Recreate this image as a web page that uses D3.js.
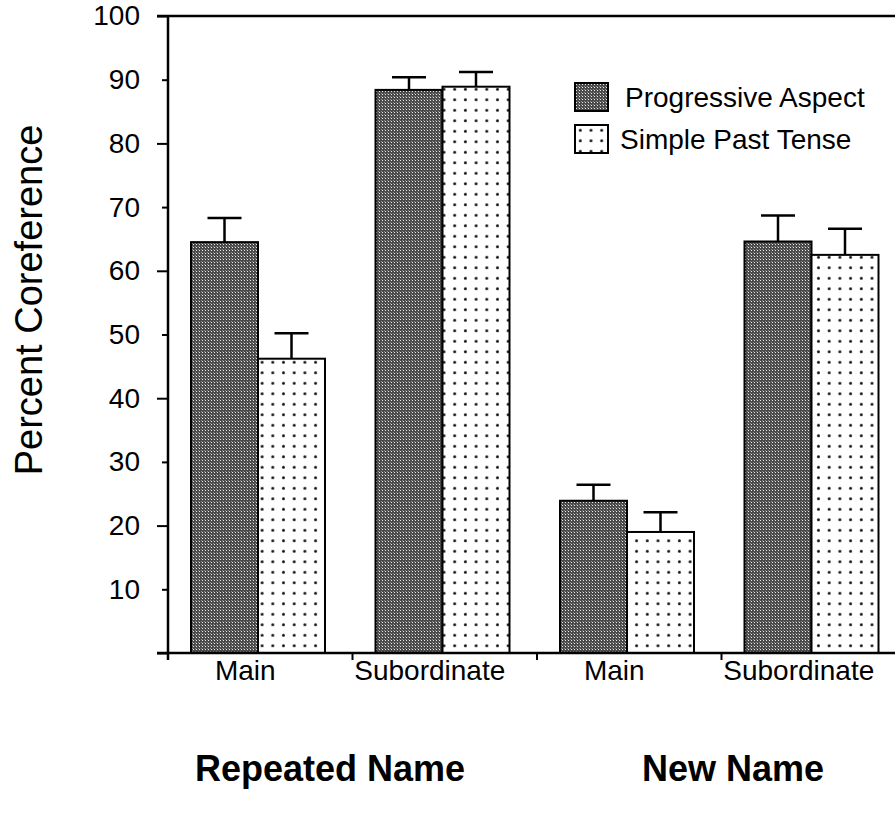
<!DOCTYPE html>
<html>
<head>
<meta charset="utf-8">
<style>
body { margin: 0; background: #fff; }
text { font-family: "Liberation Sans", Arial, sans-serif; fill: #000; }
.axis path { display: none; }
.axis line { stroke: #000; stroke-width: 2; }
</style>
<title>Percent Coreference</title>
</head>
<body>
<svg width="895" height="813"></svg>
<script src="https://d3js.org/d3.v7.min.js"></script>
<script>
// data
var groups = ["Repeated Name", "New Name"];
var clauses = ["Main", "Subordinate", "Main", "Subordinate"];
var series = ["Progressive Aspect", "Simple Past Tense"];
var progressive = [64.5, 88.4, 23.9, 64.6];
var progressiveErr = [3.8, 2.0, 2.5, 4.1];
var simplePast = [46.2, 88.9, 19.0, 62.5];
var simplePastErr = [4.0, 2.3, 3.1, 4.1];
var yTicks = [0, 10, 20, 30, 40, 50, 60, 70, 80, 90, 100];

var svg = d3.select("svg");

var axisX = 168, yTop = 16, yBase = 653;

var y = d3.scaleLinear().domain([0, 100]).range([yBase, yTop]);

var ids = clauses.map(function(d, i) { return i; });
var x0 = d3.scaleBand().domain(ids).range([axisX, 906]);
var x1 = d3.scaleBand().domain(series).range([0, 134]);
var barOffset = 23;

// patterns
var defs = svg.append("defs");
var pDark = defs.append("pattern")
    .attr("id", "dark").attr("patternUnits", "userSpaceOnUse")
    .attr("width", 3).attr("height", 3);
pDark.append("rect").attr("width", 3).attr("height", 3).attr("fill", "#4a4a4a");
pDark.append("rect").attr("x", 1).attr("y", 1).attr("width", 1).attr("height", 1).attr("fill", "#e8e8e8");
pDark.append("rect").attr("x", 0).attr("y", 0).attr("width", 1).attr("height", 1).attr("fill", "#8a8a8a");

var pDots = defs.append("pattern")
    .attr("id", "dots").attr("patternUnits", "userSpaceOnUse")
    .attr("width", 10.7).attr("height", 10.5);
pDots.append("rect").attr("width", 10.7).attr("height", 10.5).attr("fill", "#fff");
pDots.append("circle").attr("cx", 5.3).attr("cy", 5.2).attr("r", 1.5).attr("fill", "#111");

var fills = { "Progressive Aspect": "url(#dark)", "Simple Past Tense": "url(#dots)" };

var rows = [];
clauses.forEach(function(c, i) {
  rows.push({ id: i, s: series[0], v: progressive[i], e: progressiveErr[i] });
  rows.push({ id: i, s: series[1], v: simplePast[i], e: simplePastErr[i] });
});

// top frame line
svg.append("line")
    .attr("x1", axisX - 11).attr("x2", 895)
    .attr("y1", y(100)).attr("y2", y(100))
    .attr("stroke", "#000").attr("stroke-width", 2.5);

// bars
var bar = svg.append("g").selectAll("g")
    .data(rows)
  .enter().append("g");

function barMid(d) { return x0(d.id) + barOffset + x1(d.s) + x1.bandwidth() / 2; }

bar.append("rect")
    .attr("x", function(d) { return x0(d.id) + barOffset + x1(d.s); })
    .attr("y", function(d) { return y(d.v); })
    .attr("width", x1.bandwidth())
    .attr("height", function(d) { return y(0) - y(d.v); })
    .attr("fill", function(d) { return fills[d.s]; })
    .attr("stroke", "#000")
    .attr("stroke-width", 2);

// error bars
bar.append("line")
    .attr("x1", barMid)
    .attr("x2", barMid)
    .attr("y1", function(d) { return y(d.v); })
    .attr("y2", function(d) { return y(d.v + d.e); })
    .attr("stroke", "#000").attr("stroke-width", 2.5);

bar.append("line")
    .attr("x1", function(d) { return barMid(d) - 17; })
    .attr("x2", function(d) { return barMid(d) + 17; })
    .attr("y1", function(d) { return y(d.v + d.e); })
    .attr("y2", function(d) { return y(d.v + d.e); })
    .attr("stroke", "#000").attr("stroke-width", 2.5);

// y axis
var yAxis = svg.append("g")
    .attr("class", "axis")
    .attr("transform", "translate(" + axisX + ",0)")
    .call(d3.axisLeft(y)
        .tickValues(yTicks)
        .tickSize(0)
        .tickPadding(28)
        .tickFormat(function(d) { return d === 0 ? "" : d; }));

yAxis.selectAll("text").attr("font-size", 28).style("font-family", "Liberation Sans, Arial, sans-serif");
yAxis.selectAll(".tick line")
    .attr("x2", function(d) { return d % 20 === 0 ? -11 : -6; });

svg.append("line")
    .attr("x1", axisX).attr("x2", axisX)
    .attr("y1", y(100)).attr("y2", y(0) + 7)
    .attr("stroke", "#000").attr("stroke-width", 2.5);

// x axis
svg.append("line")
    .attr("x1", axisX - 11).attr("x2", 895)
    .attr("y1", y(0)).attr("y2", y(0))
    .attr("stroke", "#000").attr("stroke-width", 2.5);

svg.append("g").selectAll("line")
    .data(ids.slice(1))
  .enter().append("line")
    .attr("x1", function(d) { return x0(d); })
    .attr("x2", function(d) { return x0(d); })
    .attr("y1", y(0)).attr("y2", y(0) + 7)
    .attr("stroke", "#000").attr("stroke-width", 2);

svg.append("g").selectAll("text")
    .data(ids)
  .enter().append("text")
    .attr("x", function(d) { return x0(d) + x0.bandwidth() / 2 - 15; })
    .attr("y", 680)
    .attr("text-anchor", "middle")
    .attr("font-size", 28)
    .text(function(d) { return clauses[d]; });

// group labels
var groupX = [330, 733];
svg.append("g").selectAll("text")
    .data(groups)
  .enter().append("text")
    .attr("x", function(d, i) { return groupX[i]; })
    .attr("y", 781)
    .attr("text-anchor", "middle")
    .attr("font-size", 36)
    .attr("font-weight", "bold")
    .text(function(d) { return d; });

// y title
svg.append("text")
    .attr("transform", "translate(42,300) rotate(-90)")
    .attr("text-anchor", "middle")
    .attr("font-size", 38)
    .text("Percent Coreference");

// legend
var legend = svg.append("g").selectAll("g")
    .data(series)
  .enter().append("g")
    .attr("transform", function(d, i) { return "translate(575," + (83 + i * 42) + ")"; });

legend.append("rect")
    .attr("width", 33).attr("height", 28)
    .attr("fill", function(d) { return fills[d]; })
    .attr("stroke", "#000").attr("stroke-width", 2);

legend.append("text")
    .attr("x", function(d, i) { return i === 0 ? 50 : 45; })
    .attr("y", 24)
    .attr("font-size", 28)
    .text(function(d) { return d; });
</script>
</body>
</html>
